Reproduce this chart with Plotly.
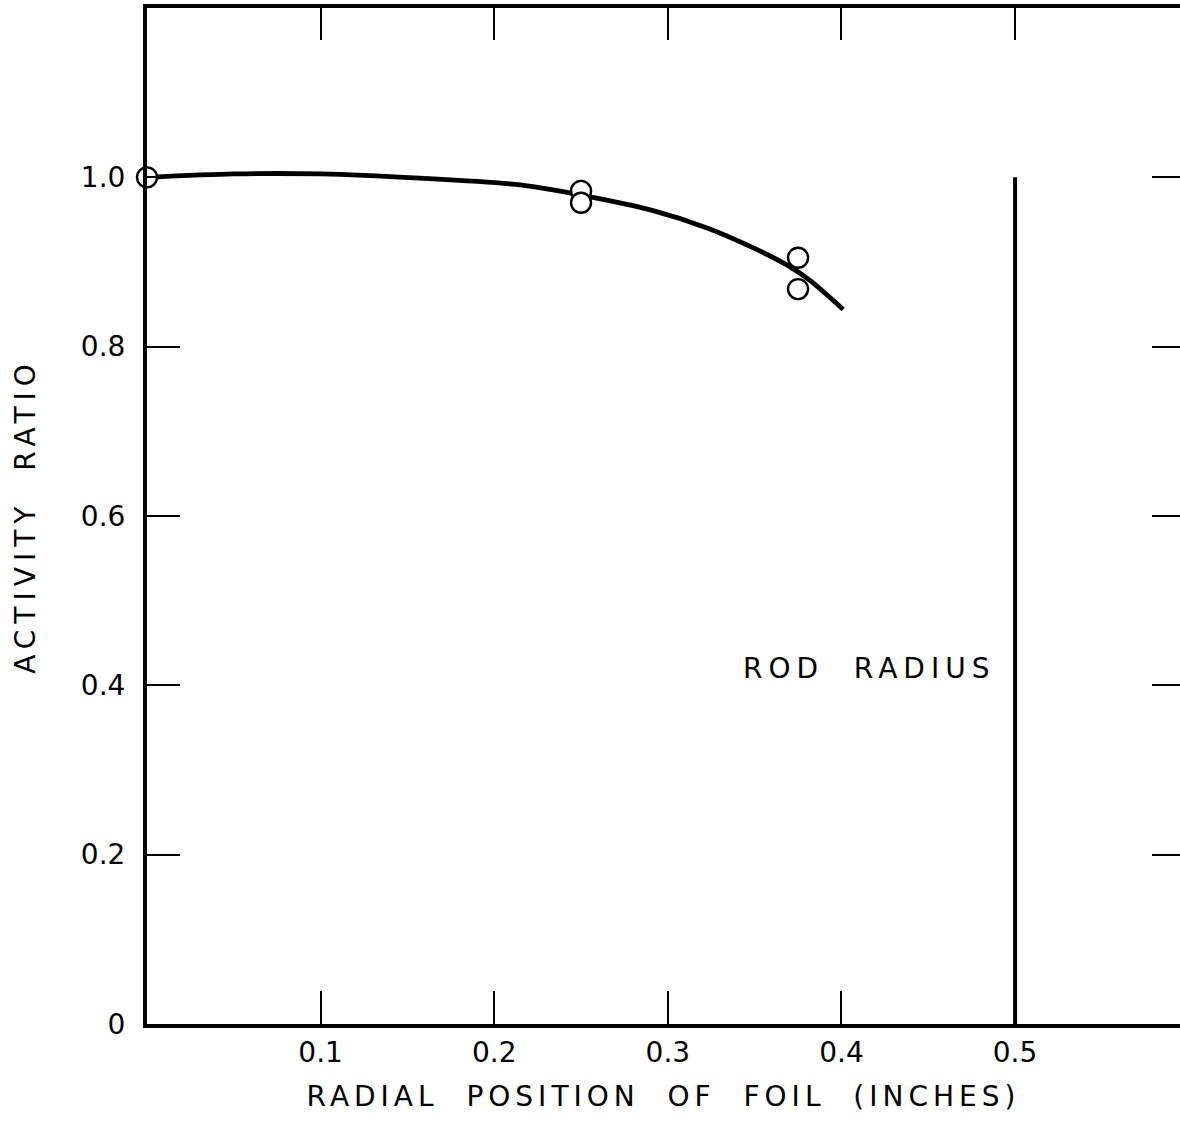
import plotly.graph_objects as go

# Measured foil activity ratios vs radial position in the rod
foil_x = [0.0, 0.25, 0.25, 0.375, 0.375]
foil_y = [1.0, 0.984, 0.970, 0.905, 0.868]

# Smooth faired curve through the measurements
curve_x = [0.0, 0.05, 0.1, 0.157, 0.215, 0.25, 0.291, 0.323, 0.349, 0.369, 0.382, 0.401]
curve_y = [1.0, 1.004, 1.004, 0.999, 0.991, 0.979, 0.961, 0.940, 0.917, 0.896, 0.878, 0.844]

rod_radius = 0.5
rod_line_top = 1.0

x_ticks = [0.1, 0.2, 0.3, 0.4, 0.5]
x_tick_text = ["0.1", "0.2", "0.3", "0.4", "0.5"]
x_top_ticks = [0.1, 0.2, 0.3, 0.4, 0.5, 0.6]
y_ticks = [0.0, 0.2, 0.4, 0.6, 0.8, 1.0]
y_tick_text = ["0", "0.2", "0.4", "0.6", "0.8", "1.0"]
y_right_ticks = [0.2, 0.4, 0.6, 0.8, 1.0]

X_RANGE = [0, 0.595]
Y_RANGE = [0, 1.2]
FONT = "DejaVu Sans"

fig = go.Figure()

# rod surface marker, drawn on the mirrored top/right axes
fig.add_trace(go.Scatter(
    x=[rod_radius, rod_radius], y=[0, rod_line_top], mode="lines",
    xaxis="x2", yaxis="y2",
    line=dict(color="black", width=4), hoverinfo="skip", showlegend=False,
))
fig.add_trace(go.Scatter(
    x=curve_x, y=curve_y, mode="lines",
    line=dict(color="black", width=4.8, shape="spline", smoothing=0.8),
    showlegend=False,
))
fig.add_trace(go.Scatter(
    x=foil_x, y=foil_y, mode="markers",
    marker=dict(symbol="circle", size=20, color="white",
                line=dict(color="black", width=2.4)),
    showlegend=False, cliponaxis=False,
))

fig.add_annotation(
    x=rod_radius, y=0.42, xref="x", yref="y", text="ROD  RADIUS",
    showarrow=False, xanchor="center", yanchor="middle", xshift=-146,
    font=dict(family=FONT, size=28, color="black"),
)

axis_font = dict(family=FONT, size=28, color="black")
title_font = dict(family=FONT, size=28, color="black")

fig.update_layout(
    width=1180, height=1124,
    margin=dict(l=147, r=0, t=8, b=100),
    paper_bgcolor="white", plot_bgcolor="white",
    font=dict(family=FONT, color="black"),
    xaxis=dict(
        range=X_RANGE, showgrid=False, zeroline=False,
        showline=True, linecolor="black", linewidth=4,
        ticks="inside", ticklen=33, tickwidth=2, tickcolor="black",
        tickvals=x_ticks, ticktext=x_tick_text, tickfont=axis_font,
        ticklabelstandoff=0,
        title=dict(text="RADIAL  POSITION  OF  FOIL  (INCHES)",
                   font=title_font, standoff=20),
    ),
    xaxis2=dict(
        range=X_RANGE, overlaying="x", side="top", showgrid=False, zeroline=False,
        showline=True, linecolor="black", linewidth=4,
        ticks="inside", ticklen=32, tickwidth=2, tickcolor="black",
        tickvals=x_top_ticks, showticklabels=False,
    ),
    yaxis=dict(
        range=Y_RANGE, showgrid=False, zeroline=False,
        showline=True, linecolor="black", linewidth=4,
        ticks="inside", ticklen=33, tickwidth=2, tickcolor="black",
        tickvals=y_ticks, ticktext=y_tick_text, tickfont=axis_font,
        ticklabelstandoff=12,
        title=dict(text="ACTIVITY  RATIO", font=title_font, standoff=38),
    ),
    yaxis2=dict(
        range=Y_RANGE, overlaying="y", side="right", showgrid=False, zeroline=False,
        showline=False, ticks="inside", ticklen=28, tickwidth=2, tickcolor="black",
        tickvals=y_right_ticks, showticklabels=False,
    ),
)

# hand-lettered look: widely spaced capitals in titles and labels
spacing_css = (
    "var s=document.createElement('style');"
    "s.textContent='.g-xtitle text{letter-spacing:5px}"
    ".g-ytitle text,.annotation-text{letter-spacing:6px}';"
    "document.head.appendChild(s);"
)

fig.write_html("out.html", post_script=spacing_css)
